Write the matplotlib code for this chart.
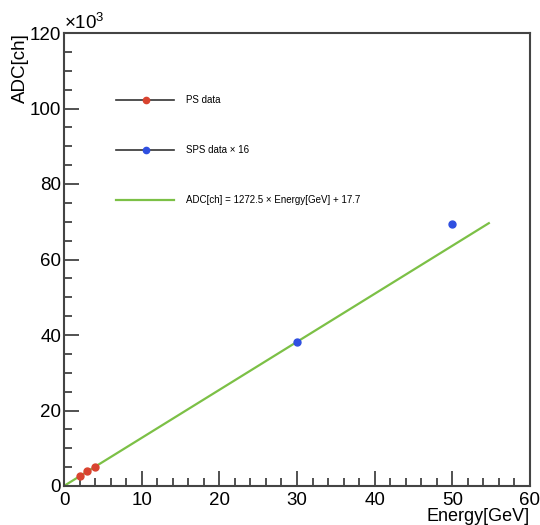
import matplotlib.pyplot as plt
from matplotlib.ticker import MultipleLocator, FuncFormatter

plt.rcParams['font.family'] = ['Liberation Sans', 'DejaVu Sans']
plt.rcParams['mathtext.fontset'] = 'custom'
plt.rcParams['mathtext.rm'] = 'Liberation Sans'

# --- data (ADC in units of 10^3 channels) ---
ps_energy = [2, 3, 4]
ps_adc = [2.6, 3.9, 5.1]
sps_energy = [30, 50]
sps_adc = [38.2, 69.3]
fit_slope = 1272.5
fit_offset = 17.7
fit_range = [0.0, 54.7]

fig = plt.figure(figsize=(5.4, 5.25), dpi=100)
ax = fig.add_axes([64 / 540, 39 / 525, 466 / 540, 453 / 525])

fit_y = [(fit_slope * e + fit_offset) / 1000 for e in fit_range]
ax.plot(fit_range, fit_y, color='#7cc046', lw=1.6, zorder=2)
ax.plot(ps_energy, ps_adc, 'o', color='#d9432f', ms=5, zorder=3)
ax.plot(sps_energy, sps_adc, 'o', color='#2f4fe0', ms=5, zorder=3)

ax.set_xlim(0, 60)
ax.set_ylim(0, 120)
ax.xaxis.set_major_locator(MultipleLocator(10))
ax.xaxis.set_minor_locator(MultipleLocator(2))
ax.yaxis.set_major_locator(MultipleLocator(20))
ax.yaxis.set_minor_locator(MultipleLocator(5))
ax.yaxis.set_major_formatter(FuncFormatter(lambda v, p: f"{v:g}"))
ax.tick_params(which='both', direction='in', top=False, right=False,
               labelsize=13.5, pad=2, color='#333333', width=1.2)
ax.tick_params(axis='x', which='major', pad=4)
ax.tick_params(which='major', length=11)
ax.tick_params(which='minor', length=5.5)
for s in ax.spines.values():
    s.set_color('#444444')
    s.set_linewidth(1.5)

ax.text(0.0, 1.0, '×10$^3$', transform=ax.transAxes, fontsize=13.5,
        ha='left', va='bottom')
ax.set_ylabel('ADC[ch]', fontsize=13.5, labelpad=2)
ax.yaxis.set_label_coords(-0.075, 1.0)
ax.yaxis.label.set_ha('right')
ax.set_xlabel('Energy[GeV]', fontsize=13, labelpad=0)
ax.xaxis.set_label_coords(1.0, -0.048)
ax.xaxis.label.set_ha('right')
ax.xaxis.label.set_va('top')

# legend drawn ROOT-style
leg = [('PS data', '#d9432f', '#333333', True),
       ('SPS data × 16', '#2f4fe0', '#333333', True),
       ('ADC[ch] = 1272.5 × Energy[GeV] + 17.7', None, '#7cc046', False)]
for i, (label, mcol, lcol, marker) in enumerate(leg):
    y = 1 - (100 - 33 + i * 50) / 453
    ax.plot([0.112, 0.237], [y, y], color=lcol, lw=1.2 if marker else 1.6,
            transform=ax.transAxes, clip_on=False)
    if marker:
        ax.plot([0.175], [y], 'o', color=mcol, ms=4.5, transform=ax.transAxes)
    ax.text(0.262, y, label, transform=ax.transAxes, fontsize=7,
            va='center', ha='left')

fig.savefig('out.png', dpi=100)
